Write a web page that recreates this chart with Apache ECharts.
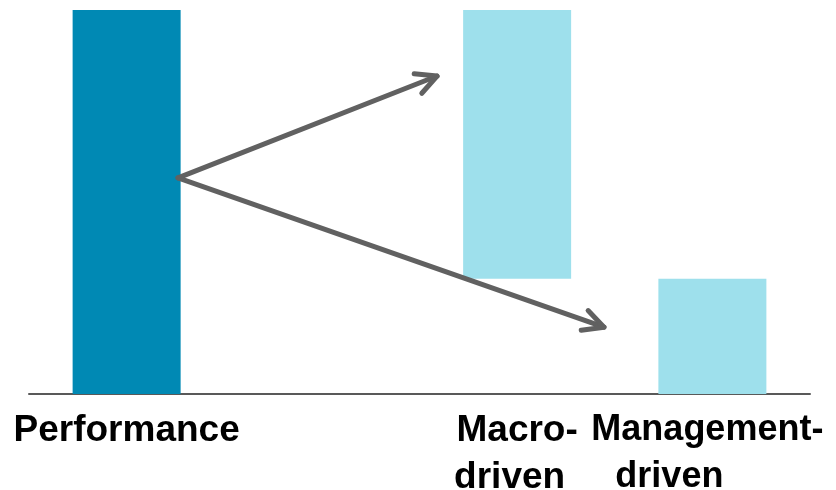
<!DOCTYPE html>
<html>
<head>
<meta charset="utf-8">
<script src="https://cdn.jsdelivr.net/npm/echarts@6/dist/echarts.min.js"></script>
<style>
  html, body { margin: 0; padding: 0; background: #ffffff; }
  #chart { width: 836px; height: 490px; }
</style>
</head>
<body>
<div id="chart"></div>
<script>
// Categories along the bottom axis (an empty slot sits between the first two)
const categories = ['Performance', '', 'Macro-driven', 'Management-driven'];

// Waterfall pieces: invisible base + visible segment
const baseValues = [0, '-', 30, 0];
const segmentValues = [100, '-', 70.5, 30];

// Arrows in (x, y) value coordinates: [x0, y0, x1, y1]
const arrows = [
  [0.763, 56.3, 2.09, 82.8],
  [0.763, 56.3, 2.945, 17.4]
];

const DARK = '#0089B4';
const LIGHT = '#9EE0EC';
const segmentColors = [DARK, LIGHT, LIGHT, LIGHT];

const chart = echarts.init(document.getElementById('chart'), null, { renderer: 'canvas' });

const baseText = { fontWeight: 'bold', lineHeight: 47, color: '#000' };
const labelStyles = {
  p: Object.assign({ fontSize: 37 }, baseText),
  m1: Object.assign({ fontSize: 37 }, baseText),
  m2: Object.assign({ fontSize: 37, padding: [0, 15, 0, 0] }, baseText),
  g1: Object.assign({ fontSize: 36, padding: [0, 10, 0, 0] }, baseText),
  g2: Object.assign({ fontSize: 36, padding: [0, 86, 0, 0] }, baseText)
};

function formatLabel(v) {
  if (v === 'Performance') return '{p|Performance}';
  if (v === 'Macro-driven') return '{m1|Macro-}\n{m2|driven}';
  if (v === 'Management-driven') return '{g1|Management-}\n{g2|driven}';
  return '';
}

function renderArrow(params, api) {
  const p0 = api.coord([api.value(0), api.value(1)]);
  const p1 = api.coord([api.value(2), api.value(3)]);
  const ang = Math.atan2(p1[1] - p0[1], p1[0] - p0[0]);
  const arm = 23;
  const spread = 27 * Math.PI / 180;
  const a1 = [p1[0] - arm * Math.cos(ang - spread), p1[1] - arm * Math.sin(ang - spread)];
  const a2 = [p1[0] - arm * Math.cos(ang + spread), p1[1] - arm * Math.sin(ang + spread)];
  const style = { stroke: '#616161', lineWidth: 5, lineCap: 'round', lineJoin: 'round', fill: null };
  return {
    type: 'group',
    children: [
      { type: 'line', shape: { x1: p0[0], y1: p0[1], x2: p1[0], y2: p1[1] }, style: style },
      { type: 'polyline', shape: { points: [a1, p1, a2] }, style: style }
    ]
  };
}

chart.setOption({
  animation: false,
  backgroundColor: '#ffffff',
  grid: { left: 29, right: 26, top: 10, bottom: 96, containLabel: false, outerBoundsMode: 'none' },
  xAxis: [
    {
      type: 'category',
      data: categories,
      axisLine: { show: true, lineStyle: { color: '#595959', width: 2 } },
      axisTick: { show: false },
      axisLabel: {
        interval: 0,
        margin: 13,
        fontFamily: '"Liberation Sans", Arial, sans-serif',
        formatter: formatLabel,
        rich: labelStyles
      },
      splitLine: { show: false }
    },
    {
      type: 'value',
      min: 0,
      max: 4,
      show: false
    }
  ],
  yAxis: {
    type: 'value',
    min: 0,
    max: 100,
    show: false,
    splitLine: { show: false }
  },
  series: [
    {
      type: 'bar',
      stack: 'w',
      data: baseValues,
      barWidth: 108,
      itemStyle: { color: 'transparent' },
      silent: true
    },
    {
      type: 'bar',
      stack: 'w',
      barWidth: 108,
      data: segmentValues.map((v, i) => ({ value: v, itemStyle: { color: segmentColors[i] } }))
    },
    {
      type: 'custom',
      xAxisIndex: 1,
      yAxisIndex: 0,
      renderItem: renderArrow,
      data: arrows,
      silent: true,
      z: 5
    }
  ]
});
</script>
</body>
</html>
